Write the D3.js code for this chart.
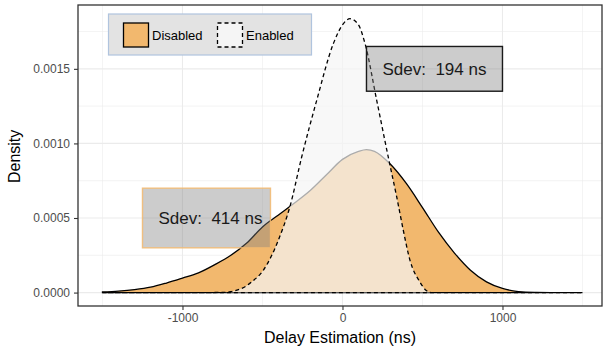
<!DOCTYPE html>
<html lang="en">
  <head>
    <meta charset="UTF-8" />
    <script src="https://d3js.org/d3.v7.min.js"></script>
    <title>Delay Estimation</title>
    <style>
      body { margin: 0; background: #fff; }
      text { font-family: "Liberation Sans", Arial, sans-serif; }
    </style>
  </head>
  <body>
    <div id="chart"></div>
    <script>
      // density curves (x in ns, y in 1e-3 /ns)
      const disabledX = [-1500, -1400, -1300, -1200, -1100, -1000, -900, -800, -700, -600, -500, -400, -300, -200, -100, 0, 100, 150, 200, 300, 400, 500, 600, 700, 800, 900, 1000, 1100, 1200, 1300, 1400, 1500];
      const disabledY = [0.004, 0.010, 0.020, 0.036, 0.064, 0.097, 0.132, 0.186, 0.248, 0.330, 0.440, 0.520, 0.600, 0.686, 0.790, 0.893, 0.946, 0.958, 0.947, 0.860, 0.730, 0.570, 0.405, 0.265, 0.150, 0.072, 0.028, 0.007, 0.001, 0, 0, 0];

      const enabledX = [-1500, -1200, -900, -750, -700, -650, -600, -568, -495, -401, -328, -255, -161, -57, 0, 47, 100, 141, 214, 286, 339, 380, 422, 484, 526, 560, 700, 1000, 1500];
      const enabledY = [0, 0, 0, 0.001, 0.006, 0.020, 0.045, 0.071, 0.149, 0.351, 0.578, 0.909, 1.289, 1.669, 1.795, 1.836, 1.795, 1.669, 1.289, 0.909, 0.641, 0.418, 0.216, 0.071, 0.012, 0, 0, 0, 0];

      const groups = ["Disabled", "Enabled"];
      const xTicks = [-1000, 0, 1000];
      const xMinor = [-1500, -500, 500, 1500];
      const yTicks = [0, 0.0005, 0.001, 0.0015];
      const yMinor = [0.00025, 0.00075, 0.00125, 0.00175];

      // annotation boxes: [x0, x1, y0, y1], label position and text
      const boxDisabled = [-1250, -450, 0.0003, 0.0007];
      const boxEnabled = [150, 1000, 0.00135, 0.00165];
      const labelDisabled = [-825, 0.0005, "Sdev:  414 ns"];
      const labelEnabled = [575, 0.0015, "Sdev:  194 ns"];

      const margin = { top: 5, right: 1, bottom: 46, left: 78 },
        width = 603 - margin.left - margin.right,
        height = 352 - margin.top - margin.bottom;

      const orange = "#f2b86e";

      const svg = d3
        .select("#chart")
        .append("svg")
        .attr("width", 603)
        .attr("height", 352)
        .append("g")
        .attr("transform", `translate(${margin.left}, ${margin.top})`);

      const x = d3.scaleLinear().domain([-1653, 1622]).range([0, width]);
      const y = d3.scaleLinear().domain([-0.00009, 0.001928]).range([height, 0]);

      // grid
      const grid = svg.append("g");
      grid.selectAll(".vmin").data(xMinor).join("line")
        .attr("x1", (d) => x(d)).attr("x2", (d) => x(d))
        .attr("y1", 0).attr("y2", height)
        .attr("stroke", "#ebebeb").attr("stroke-width", 0.6);
      grid.selectAll(".hmin").data(yMinor).join("line")
        .attr("x1", 0).attr("x2", width)
        .attr("y1", (d) => y(d)).attr("y2", (d) => y(d))
        .attr("stroke", "#ebebeb").attr("stroke-width", 0.6);
      grid.selectAll(".vmaj").data(xTicks).join("line")
        .attr("x1", (d) => x(d)).attr("x2", (d) => x(d))
        .attr("y1", 0).attr("y2", height)
        .attr("stroke", "#ebebeb").attr("stroke-width", 1.1);
      grid.selectAll(".hmaj").data(yTicks).join("line")
        .attr("x1", 0).attr("x2", width)
        .attr("y1", (d) => y(d)).attr("y2", (d) => y(d))
        .attr("stroke", "#ebebeb").attr("stroke-width", 1.1);

      const area = d3
        .area()
        .x((d) => x(d[0]))
        .y0(y(0))
        .y1((d) => y(d[1] / 1000))
        .curve(d3.curveMonotoneX);

      const disabled = disabledX.map((v, i) => [v, disabledY[i]]);
      const enabled = enabledX.map((v, i) => [v, enabledY[i]]);

      svg.append("path")
        .datum(disabled)
        .attr("d", area)
        .attr("fill", orange)
        .attr("stroke", "#000")
        .attr("stroke-width", 1.3);

      svg.append("path")
        .datum(enabled)
        .attr("d", area)
        .attr("fill", "#f5f5f5")
        .attr("fill-opacity", 0.7)
        .attr("stroke", "#000")
        .attr("stroke-width", 1.3)
        .attr("stroke-dasharray", "4,3");

      // annotation boxes
      function box(b, stroke) {
        svg.append("rect")
          .attr("x", x(b[0]))
          .attr("y", y(b[3]))
          .attr("width", x(b[1]) - x(b[0]))
          .attr("height", y(b[2]) - y(b[3]))
          .attr("fill", "#7f7f7f")
          .attr("fill-opacity", 0.4)
          .attr("stroke", stroke)
          .attr("stroke-width", 1.4);
      }
      box(boxDisabled, "rgba(242,184,110,0.85)");
      box(boxEnabled, "#1a1a1a");

      svg.selectAll(".note")
        .data([labelDisabled, labelEnabled])
        .join("text")
        .attr("x", (d) => x(d[0]))
        .attr("y", (d) => y(d[1]))
        .attr("dy", "0.36em")
        .attr("text-anchor", "middle")
        .attr("font-size", 17)
        .attr("fill", "#1a1a1a")
        .style("white-space", "pre")
        .text((d) => d[2]);

      // panel border
      svg.append("rect")
        .attr("width", width)
        .attr("height", height)
        .attr("fill", "none")
        .attr("stroke", "#333")
        .attr("stroke-width", 1.3);

      // axes
      const xAxis = svg.append("g")
        .attr("transform", `translate(0, ${height})`)
        .call(d3.axisBottom(x).tickValues(xTicks).tickSize(4).tickSizeOuter(0).tickPadding(3));
      const yAxis = svg.append("g")
        .call(d3.axisLeft(y).tickValues(yTicks).tickFormat(d3.format(".4f")).tickSize(4).tickSizeOuter(0).tickPadding(4));
      [xAxis, yAxis].forEach((a) => {
        a.select(".domain").remove();
        a.selectAll(".tick line").attr("stroke", "#333").attr("stroke-width", 1.1);
        a.selectAll(".tick text")
          .attr("fill", "#4d4d4d")
          .style("font-size", "12px")
          .style("font-family", '"Liberation Sans", Arial, sans-serif');
      });
      xAxis.selectAll(".tick text").text((d) => (d < 0 ? "-" + Math.abs(d) : d));

      svg.append("text")
        .attr("x", width / 2)
        .attr("y", height + 37)
        .attr("text-anchor", "middle")
        .attr("font-size", 16)
        .attr("fill", "#000")
        .text("Delay Estimation (ns)");

      svg.append("text")
        .attr("transform", `translate(${14 - margin.left}, ${y(0.000913)}) rotate(-90)`)
        .attr("dy", "0.36em")
        .attr("text-anchor", "middle")
        .attr("font-size", 16)
        .attr("fill", "#000")
        .text("Density");

      // legend
      const legend = svg.append("g").attr("transform", `translate(${108.5 - margin.left}, ${14 - margin.top})`);
      legend.append("rect")
        .attr("width", 203)
        .attr("height", 41)
        .attr("fill", "#e3e3e3")
        .attr("stroke", "#b0c4de")
        .attr("stroke-width", 1.2);
      const keys = legend.selectAll(".key")
        .data(groups)
        .join("g")
        .attr("transform", (d, i) => `translate(${15 + i * 94}, 9)`);
      keys.append("rect")
        .attr("width", 25)
        .attr("height", 24)
        .attr("fill", (d, i) => (i === 0 ? orange : "#f5f5f5"))
        .attr("stroke", "#000")
        .attr("stroke-width", 1.3)
        .attr("stroke-dasharray", (d, i) => (i === 0 ? null : "4,3"));
      keys.append("text")
        .attr("x", 28.5)
        .attr("y", 12)
        .attr("dy", "0.36em")
        .attr("font-size", 13)
        .attr("fill", "#000")
        .text((d) => d);
    </script>
  </body>
</html>
